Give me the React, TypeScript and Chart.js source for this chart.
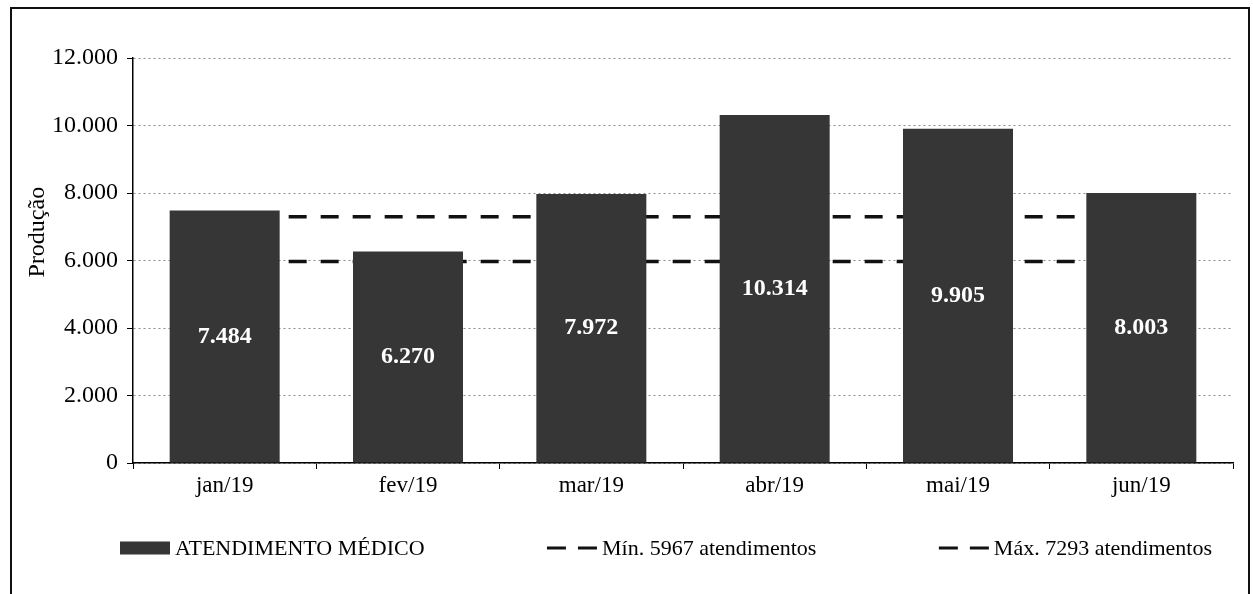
import React, { useEffect, useRef } from "react";
import { Chart, registerables } from "chart.js";

Chart.register(...registerables);

const categories = ["jan/19", "fev/19", "mar/19", "abr/19", "mai/19", "jun/19"];
const atendimentos = [7484, 6270, 7972, 10314, 9905, 8003];
const minLine = [5967, 5967, 5967, 5967, 5967, 5967];
const maxLine = [7293, 7293, 7293, 7293, 7293, 7293];
const seriesLabels = ["ATENDIMENTO MÉDICO", "Mín. 5967 atendimentos", "Máx. 7293 atendimentos"];
const yTitle = "Produção";
const yMin = 0;
const yMax = 12000;
const yStep = 2000;

const FONT = "'Liberation Serif', 'Times New Roman', serif";
const BAR_COLOR = "#363636";

const fmt = (v: number) => String(Math.round(v)).replace(/\B(?=(\d{3})+(?!\d))/g, ".");

const barLabelPlugin = {
  id: "barLabels",
  afterDatasetsDraw(chart: any) {
    const ctx = chart.ctx;
    const meta = chart.getDatasetMeta(0);
    const data = chart.data.datasets[0].data as number[];
    ctx.save();
    ctx.font = `bold 24px ${FONT}`;
    ctx.fillStyle = "#ffffff";
    ctx.textAlign = "center";
    ctx.textBaseline = "middle";
    meta.data.forEach((el: any, i: number) => {
      const p = el.getProps(["x", "y", "base"], true);
      ctx.fillText(fmt(data[i]), p.x, (p.y + p.base) / 2);
    });
    ctx.restore();
  },
};

const yTitlePlugin = {
  id: "yTitleCustom",
  afterDraw(chart: any) {
    const { ctx, chartArea } = chart;
    ctx.save();
    ctx.translate(38, chartArea.top + (chartArea.bottom - chartArea.top) * 0.43);
    ctx.rotate(-Math.PI / 2);
    ctx.font = `24px ${FONT}`;
    ctx.fillStyle = "#000";
    ctx.textAlign = "center";
    ctx.textBaseline = "middle";
    ctx.fillText(yTitle, 0, 0);
    ctx.restore();
  },
};

const legendPlugin = {
  id: "customLegend",
  afterDraw(chart: any) {
    const ctx = chart.ctx;
    const ds = chart.data.datasets;
    const boxW = 50;
    const boxH = 13;
    const textGap = 5;
    const rowY = 548;
    const startX = 120;
    const endX = 1212;
    ctx.save();
    ctx.font = `22px ${FONT}`;
    ctx.textBaseline = "middle";
    const widths = ds.map((d: any) => boxW + textGap + ctx.measureText(d.label).width);
    const sum = widths.reduce((a: number, b: number) => a + b, 0);
    const itemGap = (endX - startX - sum) / (ds.length - 1);
    let x = startX;
    ds.forEach((d: any, i: number) => {
      if (d.type === "line") {
        ctx.strokeStyle = d.borderColor;
        ctx.lineWidth = 3;
        ctx.setLineDash([19, 12]);
        ctx.beginPath();
        ctx.moveTo(x, rowY);
        ctx.lineTo(x + boxW, rowY);
        ctx.stroke();
        ctx.setLineDash([]);
      } else {
        ctx.fillStyle = d.backgroundColor;
        ctx.fillRect(x, rowY - boxH / 2, boxW, boxH);
      }
      ctx.fillStyle = "#000";
      ctx.fillText(d.label, x + boxW + textGap, rowY + 1);
      x += widths[i] + itemGap;
    });
    ctx.restore();
  },
};

export default function App() {
  const canvasRef = useRef<HTMLCanvasElement | null>(null);

  useEffect(() => {
    if (!canvasRef.current) return;
    const chart = new Chart(canvasRef.current, {
      type: "bar",
      data: {
        labels: categories,
        datasets: [
          {
            type: "bar",
            label: seriesLabels[0],
            data: atendimentos,
            backgroundColor: BAR_COLOR,
            borderWidth: 0,
            barPercentage: 0.6,
            categoryPercentage: 1,
            order: 1,
          },
          {
            type: "line",
            label: seriesLabels[1],
            data: minLine,
            borderColor: "#111",
            backgroundColor: "#111",
            borderWidth: 3.5,
            borderDash: [18, 14],
            pointRadius: 0,
            fill: false,
            order: 2,
          },
          {
            type: "line",
            label: seriesLabels[2],
            data: maxLine,
            borderColor: "#111",
            backgroundColor: "#111",
            borderWidth: 3.5,
            borderDash: [18, 14],
            pointRadius: 0,
            fill: false,
            order: 2,
          },
        ] as any,
      },
      options: {
        responsive: false,
        animation: false,
        devicePixelRatio: 1,
        layout: { padding: { top: 58, left: 0, right: 20, bottom: 0 } },
        plugins: {
          legend: { display: false },
          tooltip: { enabled: false },
          title: { display: false },
        },
        scales: {
          x: {
            offset: true,
            grid: {
              drawOnChartArea: false,
              drawTicks: true,
              offset: true,
              tickLength: 6,
              tickColor: "#000",
              tickWidth: 1,
            },
            border: { display: true, color: "#000", width: 1.5 },
            ticks: {
              color: "#000",
              font: { family: FONT, size: 23 },
              padding: 3,
              maxRotation: 0,
            },
            afterFit(scale: any) {
              scale.height = 131;
            },
          },
          y: {
            min: yMin,
            max: yMax,
            grid: {
              color: "#8c8c8c",
              lineWidth: 1,
              drawTicks: true,
              tickLength: 6,
              tickColor: "#000",
              tickWidth: 1,
              tickBorderDash: [],
            },
            border: { display: true, color: "#000", width: 1.5, dash: [2, 3] },
            ticks: {
              stepSize: yStep,
              color: "#000",
              font: { family: FONT, size: 24 },
              padding: 9,
              callback: (v: any) => fmt(Number(v)),
            },
            afterFit(scale: any) {
              scale.width = 133;
            },
          },
        },
      } as any,
      plugins: [barLabelPlugin, yTitlePlugin, legendPlugin],
    });
    return () => chart.destroy();
  }, []);

  return (
    <div style={{ position: "fixed", left: 0, top: 0, width: 1253, height: 594, overflow: "hidden", background: "#fff" }}>
      <div
        style={{
          position: "absolute",
          left: 10,
          top: 7,
          width: 1240,
          height: 640,
          border: "2px solid #111",
          boxSizing: "border-box",
        }}
      />
      <canvas
        ref={canvasRef}
        width={1253}
        height={594}
        style={{ position: "absolute", left: 0, top: 0, width: 1253, height: 594 }}
      />
    </div>
  );
}
